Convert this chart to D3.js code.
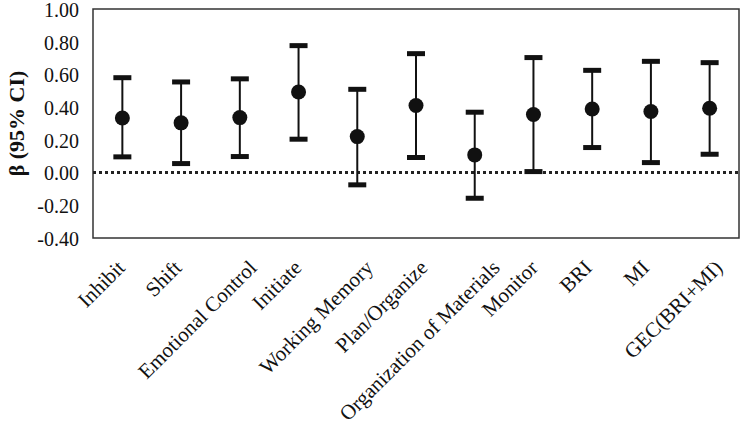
<!DOCTYPE html>
<html><head><meta charset="utf-8">
<script src="https://cdn.jsdelivr.net/npm/d3@7"></script>
<style>body{margin:0;background:#fff}svg{display:block}</style>
</head><body>
<svg id="c" width="742" height="425"></svg>
<script>
const categories = ["Inhibit","Shift","Emotional Control","Initiate","Working Memory","Plan/Organize","Organization of Materials","Monitor","BRI","MI","GEC(BRI+MI)"];
const beta  = [0.334, 0.304, 0.336, 0.493, 0.220, 0.410, 0.108, 0.355, 0.389, 0.373, 0.393];
const lower = [0.096, 0.055, 0.098, 0.204, -0.075, 0.092, -0.157, 0.006, 0.153, 0.061, 0.112];
const upper = [0.580, 0.554, 0.573, 0.776, 0.509, 0.727, 0.369, 0.703, 0.625, 0.680, 0.672];
const yTicks = [1.0, 0.8, 0.6, 0.4, 0.2, 0.0, -0.2, -0.4];

const svg = d3.select("#c");
const m = {l:93, r:3, t:9, b:187};
const W = 742, H = 425;
const x = d3.scaleBand().domain(categories).range([m.l, W - m.r]);
const y = d3.scaleLinear().domain([-0.4, 1.0]).range([H - m.b, m.t]);
const font = "'Liberation Serif','Times New Roman',serif";
const ink = "#111";

// frame
svg.append("rect").attr("x", m.l).attr("y", m.t)
  .attr("width", W - m.r - m.l).attr("height", H - m.b - m.t)
  .attr("fill", "none").attr("stroke", "#333").attr("stroke-width", 1.5);

// y axis
const fmt = d3.format(".2f");
const yAxis = d3.axisLeft(y).tickValues(yTicks).tickFormat(d => fmt(d).replace("−", "-")).tickSize(0).tickPadding(14);
const ya = svg.append("g").attr("transform", `translate(${m.l},1)`).call(yAxis);
ya.select(".domain").remove();
ya.attr("font-family", font);
ya.selectAll("text").attr("font-family", font).attr("font-size", 20).attr("fill", ink);

// y title
svg.append("text").attr("transform", `translate(24,${(m.t + H - m.b)/2}) rotate(-90)`)
  .attr("text-anchor", "middle").attr("font-family", font).attr("font-size", 22)
  .attr("font-weight", "bold").attr("fill", ink).text("β (95% CI)");

// zero line
svg.append("line").attr("x1", m.l).attr("x2", W - m.r).attr("y1", y(0)).attr("y2", y(0))
  .attr("stroke", "#222").attr("stroke-width", 3).attr("stroke-dasharray", "3,3");

const data = categories.map((c, i) => ({c, b: beta[i], lo: lower[i], hi: upper[i]}));
const cx = d => x(d.c) + x.bandwidth() / 2;
const g = svg.append("g");
g.selectAll(".wh").data(data).join("line")
  .attr("x1", cx).attr("x2", cx).attr("y1", d => y(d.lo)).attr("y2", d => y(d.hi))
  .attr("stroke", ink).attr("stroke-width", 2);
g.selectAll(".capu").data(data).join("line")
  .attr("x1", d => cx(d) - 9).attr("x2", d => cx(d) + 9).attr("y1", d => y(d.hi)).attr("y2", d => y(d.hi))
  .attr("stroke", ink).attr("stroke-width", 5);
g.selectAll(".capl").data(data).join("line")
  .attr("x1", d => cx(d) - 9).attr("x2", d => cx(d) + 9).attr("y1", d => y(d.lo)).attr("y2", d => y(d.lo))
  .attr("stroke", ink).attr("stroke-width", 5);
g.selectAll("circle").data(data).join("circle")
  .attr("cx", cx).attr("cy", d => y(d.b)).attr("r", 7.5).attr("fill", ink);

// x labels
const xl = svg.append("g");
xl.selectAll("text").data(categories).join("text")
  .attr("font-family", font).attr("font-size", 21).attr("fill", ink)
  .attr("text-anchor", "end").text(d => d)
  .each(function(d) {
    const L = this.getComputedTextLength();
    const px = x(d) + x.bandwidth() / 2 + 0.14 * L - 4;
    d3.select(this).attr("transform", `translate(${px},${H - m.b + 31}) rotate(-45)`);
  });
</script>
</body></html>
